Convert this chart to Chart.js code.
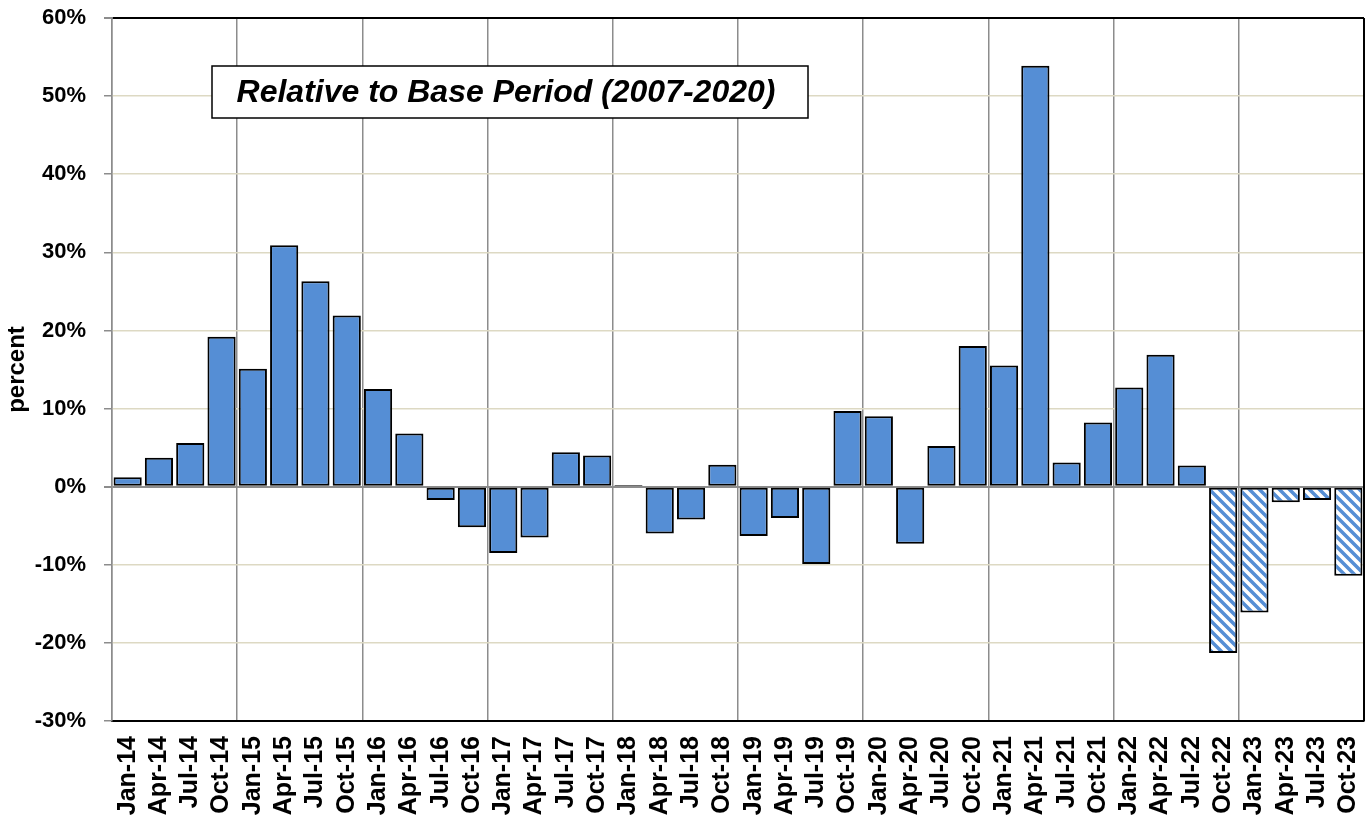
<!DOCTYPE html>
<html>
<head>
<meta charset="utf-8">
<script src="https://cdn.jsdelivr.net/npm/chart.js@4/dist/chart.umd.min.js"></script>
<style>
	html, body { margin: 0; padding: 0; background: #fff; }
	#wrap { width: 1368px; height: 819px; }
</style>
</head>
<body>
<div id="wrap"><canvas id="bar-chart" width="1368" height="819"></canvas></div>
<script>
// quarterly labels
const quarters = [
	'Jan-14', 'Apr-14', 'Jul-14', 'Oct-14', 'Jan-15', 'Apr-15', 'Jul-15', 'Oct-15',
	'Jan-16', 'Apr-16', 'Jul-16', 'Oct-16', 'Jan-17', 'Apr-17', 'Jul-17', 'Oct-17',
	'Jan-18', 'Apr-18', 'Jul-18', 'Oct-18', 'Jan-19', 'Apr-19', 'Jul-19', 'Oct-19',
	'Jan-20', 'Apr-20', 'Jul-20', 'Oct-20', 'Jan-21', 'Apr-21', 'Jul-21', 'Oct-21',
	'Jan-22', 'Apr-22', 'Jul-22', 'Oct-22', 'Jan-23', 'Apr-23', 'Jul-23', 'Oct-23'
]
// percent relative to base period
const percentValues = [
	1.2, 3.7, 5.6, 19.2, 15.1, 30.9, 26.3, 21.9,
	12.5, 6.8, -1.7, -5.2, -8.5, -6.5, 4.4, 4.0,
	0.2, -6.0, -4.2, 2.8, -6.3, -4.0, -9.9, 9.7,
	9.0, -7.3, 5.2, 18.0, 15.5, 53.9, 3.1, 8.2,
	12.7, 16.9, 2.7, -21.3, -16.1, -2.0, -1.7, -11.4
]
// the last few quarters are drawn hatched
const hatchedFrom = 'Oct-22'
const yTicks = [-30, -20, -10, 0, 10, 20, 30, 40, 50, 60]

const barBlue = '#558ed5'
const fontFam = '"Liberation Sans", Arial, sans-serif'

function makeHatch() {
	let s = 10
	let c = document.createElement('canvas')
	c.width = s
	c.height = s
	let g = c.getContext('2d')
	g.fillStyle = '#fff'
	g.fillRect(0, 0, s, s)
	g.strokeStyle = barBlue
	g.lineWidth = 3.5
	g.beginPath()
	g.moveTo(-2, -2); g.lineTo(s + 2, s + 2)
	g.moveTo(-s - 2, -2); g.lineTo(2, s + 2)
	g.moveTo(s - 2, -2); g.lineTo(2 * s + 2, s + 2)
	g.stroke()
	return g.createPattern(c, 'repeat')
}
const hatch = makeHatch()
const hatchStart = quarters.indexOf(hatchedFrom)
const fills = quarters.map((q, i) => (i >= hatchStart ? hatch : barBlue))

//frame on right side + text box
const extras = {
	id: 'extras',
	afterDraw(chart) {
		const ctx = chart.ctx
		const a = chart.chartArea
		ctx.save()
		ctx.strokeStyle = '#000'
		ctx.lineWidth = 2
		ctx.beginPath()
		ctx.moveTo(a.right, a.top)
		ctx.lineTo(a.right, a.bottom)
		ctx.stroke()

		ctx.fillStyle = '#fff'
		ctx.fillRect(212, 66, 596, 52)
		ctx.lineWidth = 1.5
		ctx.strokeRect(212, 66, 596, 52)
		ctx.fillStyle = '#000'
		ctx.font = 'italic bold 32px ' + fontFam
		ctx.textAlign = 'center'
		ctx.textBaseline = 'middle'
		ctx.fillText('Relative to Base Period (2007-2020)', 506, 93)
		ctx.restore()
	}
}

const chartData = {
	labels: quarters,
	datasets: [
		{
			data: percentValues,
			backgroundColor: fills,
			borderColor: '#000',
			borderWidth: 2,
			borderSkipped: false,
			barPercentage: 0.9,
			categoryPercentage: 1.0
		}
	]
}

const config = {
	type: 'bar',
	data: chartData,
	plugins: [extras],
	options: {
		responsive: false,
		animation: false,
		layout: { padding: { top: 18, right: 4, left: 3, bottom: 0 } },
		plugins: {
			legend: { display: false },
			tooltip: { enabled: false }
		},
		scales: {
			x: {
				offset: true,
				afterFit: (s) => {
					s.paddingLeft = 0
					s.paddingRight = 0
					s.height = 98
				},
				grid: {
					offset: true,
					drawTicks: false,
					color: (ctx) => (ctx.index % 4 === 0 ? '#8c8c8c' : 'rgba(0,0,0,0)'),
					lineWidth: 1.5
				},
				border: { color: '#000', width: 2 },
				ticks: {
					autoSkip: false,
					minRotation: 90,
					maxRotation: 90,
					padding: 15,
					color: '#000',
					font: { family: fontFam, size: 25, weight: 'bold' }
				}
			},
			y: {
				min: -30,
				max: 60,
				afterFit: (s) => {
					s.width = 109
					s.paddingTop = 0
					s.paddingBottom = 0
				},
				afterBuildTicks: (axis) => {
					axis.ticks = yTicks.map((v) => ({ value: v }))
				},
				grid: {
					color: (ctx) => {
						if (ctx.tick && ctx.tick.value === 0) return '#8c8c8c'
						if (ctx.tick && ctx.tick.value === 60) return '#000'
						return '#ddd9c3'
					},
					lineWidth: (ctx) => (ctx.tick && (ctx.tick.value === 60 || ctx.tick.value === 0) ? 2 : 1.5),
					tickColor: '#8c8c8c',
					tickLength: 8
				},
				border: { color: '#8c8c8c', width: 1.5 },
				ticks: {
					padding: 18,
					color: '#000',
					callback: (v) => v + '%',
					font: { family: fontFam, size: 22, weight: 'bold' }
				},
				title: {
					display: true,
					text: 'percent',
					color: '#000',
					padding: { top: 0, bottom: 4 },
					font: { family: fontFam, size: 24, weight: 'bold' }
				}
			}
		}
	}
}

const barChart = new Chart(document.querySelector('#bar-chart'), config)
</script>
</body>
</html>
